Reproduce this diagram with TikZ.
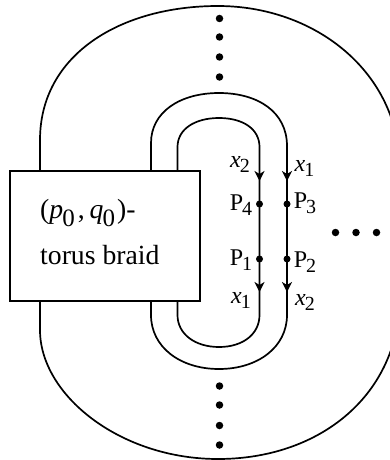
\documentclass[tikz,border=0pt]{standalone}
\usepackage{fontspec}
\setmainfont{Liberation Serif}
\usetikzlibrary{arrows.meta}
\newcommand{\lbl}[2]{{\fontsize{24}{24}\selectfont #1\kern-1pt\raisebox{-5pt}{\fontsize{20}{20}\selectfont #2}}}
\tikzset{
  strand/.style={line width=1.7pt},
  boxstyle/.style={draw,line width=1.7pt,minimum width=190pt,minimum height=130pt,inner sep=0pt,fill=white},
  dotnode/.style={circle,fill=black,inner sep=0pt,minimum size=7.5pt},
  smalldot/.style={circle,fill=black,inner sep=0pt,minimum size=7pt},
  arr/.style={strand,-{Stealth[length=10pt,width=10pt,inset=3pt]}},
  tag/.style={inner sep=0pt,anchor=base},
  boxtext/.style={inner sep=0pt,anchor=base west,font=\fontsize{27.7}{27.7}\selectfont}
}
\begin{document}
\begin{tikzpicture}[x=1pt,y=-1pt]
\useasboundingbox (0,0) rectangle (390,460);
\clip (0,0) rectangle (390,460);
% anchors
\coordinate (ot) at (40,171); \coordinate (ob) at (40,301);
\coordinate (mtl) at (151,171); \coordinate (mbl) at (151,301);
\coordinate (itl) at (177.5,171); \coordinate (ibl) at (177.5,301);
% outer loop
\draw[strand] (ot) -- (40,140) .. controls (40,55) and (120,6) .. (218,6)
   .. controls (315,6) and (400,72) .. (400,170) -- (400,295)
   .. controls (400,395) and (320,459) .. (218,459)
   .. controls (120,459) and (40,395) .. (40,330) -- (ob);
% middle loop
\draw[strand] (mtl) -- (151,143) .. controls (151,112) and (180,93) .. (219,93)
   .. controls (258,93) and (287,112) .. (287,146) -- (287,315)
   .. controls (287,347) and (258,369) .. (219,369)
   .. controls (180,369) and (151,347) .. (151,315) -- (mbl);
% inner loop
\draw[strand] (itl) -- (177.5,147) .. controls (177.5,129) and (195,118) .. (219,118)
   .. controls (243,118) and (259.5,129) .. (259.5,147) -- (259.5,315)
   .. controls (259.5,334) and (243,347) .. (219,347)
   .. controls (195,347) and (177.5,334) .. (177.5,315) -- (ibl);
% arrows
\coordinate (a1s) at (259.5,160); \coordinate (a1e) at (259.5,181);
\coordinate (a2s) at (287,160); \coordinate (a2e) at (287,181);
\coordinate (a3s) at (259.5,270); \coordinate (a3e) at (259.5,292);
\coordinate (a4s) at (287,270); \coordinate (a4e) at (287,292);
\draw[arr] (a1s) -- (a1e);
\draw[arr] (a2s) -- (a2e);
\draw[arr] (a3s) -- (a3e);
\draw[arr] (a4s) -- (a4e);
% box
\node[boxstyle] (box) at (105,236) {};
\node[boxtext] (t1) at (40,218) {(\textit{p}\kern-1pt\raisebox{-8pt}{\fontsize{25}{25}\selectfont 0}\kern3pt,\kern5pt\textit{q}\kern-1pt\raisebox{-8pt}{\fontsize{25}{25}\selectfont 0}\kern2pt)-};
\node[boxtext] (t2) at (40,264.5) {torus braid};
% points
\node[smalldot] (p4) at (259.5,204) {};
\node[smalldot] (p3) at (287,204) {};
\node[smalldot] (p1) at (259.5,259) {};
\node[smalldot] (p2) at (287,259) {};
% labels
\node[tag] (lx2t) at (240,167.5) {\lbl{\textit{x}}{2}};
\node[tag] (lx1t) at (304.5,171) {\lbl{\textit{x}}{1}};
\node[tag] (lp4) at (241,210.5) {\lbl{P}{4}};
\node[tag] (lp3) at (305,208) {\lbl{P}{3}};
\node[tag] (lp1) at (241,265) {\lbl{P}{1}};
\node[tag] (lp2) at (305,267) {\lbl{P}{2}};
\node[tag] (lx1b) at (241,303) {\lbl{\textit{x}}{1}};
\node[tag] (lx2b) at (305,305) {\lbl{\textit{x}}{2}};
% ellipsis dots
\foreach \n/\y in {a/18.5,b/37,c/57,d/77,e/386,f/405,g/425.5,h/445}
  \node[dotnode] (v\n) at (219.5,\y) {};
\foreach \n/\x in {a/335.5,b/356,c/376.5}
  \node[dotnode] (h\n) at (\x,232.5) {};
\end{tikzpicture}
\end{document}
